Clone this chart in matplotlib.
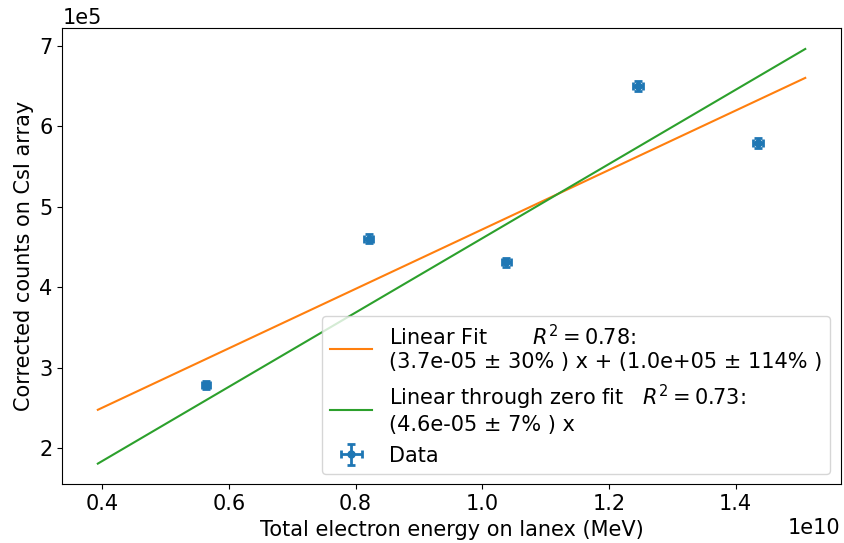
import numpy as np
import matplotlib
matplotlib.use("Agg")
import matplotlib.pyplot as plt

# measured data (MeV on lanex, counts on CsI)
energy = [0.564e10, 0.821e10, 1.038e10, 1.246e10, 1.436e10]
counts = [2.79e5, 4.605e5, 4.31e5, 6.505e5, 5.79e5]
energy_err = [0.006e10, 0.007e10, 0.007e10, 0.008e10, 0.008e10]
counts_err = [0.05e5, 0.055e5, 0.055e5, 0.06e5, 0.06e5]

# fit results
lin_slope, lin_icpt = 3.69e-05, 1.03e05
zero_slope = 4.61e-05
fit_x = [0.393e10, 1.51e10]

plt.rcParams["font.size"] = 15

fig, ax = plt.subplots(figsize=(8.44, 5.43), dpi=100)
fig.subplots_adjust(left=0.074, right=0.996, top=0.948, bottom=0.108)

xs = np.array(fit_x)
ax.plot(xs, lin_slope * xs + lin_icpt, color="C1",
        label="Linear Fit       $R^2=0.78$:\n(3.7e-05 ± 30% ) x + (1.0e+05 ± 114% )")
ax.plot(xs, zero_slope * xs, color="C2",
        label="Linear through zero fit   $R^2=0.73$:\n(4.6e-05 ± 7% ) x")
ax.errorbar(energy, counts, xerr=energy_err, yerr=counts_err, fmt="o",
            color="C0", capsize=3, elinewidth=2, capthick=2, markersize=5,
            label="Data")

ax.ticklabel_format(axis="y", style="sci", scilimits=(0, 0))
ax.set_xlabel("Total electron energy on lanex (MeV)")
ax.set_ylabel("Corrected counts on CsI array")
ax.legend(loc="lower right")

fig.savefig("out.png", dpi=100)
